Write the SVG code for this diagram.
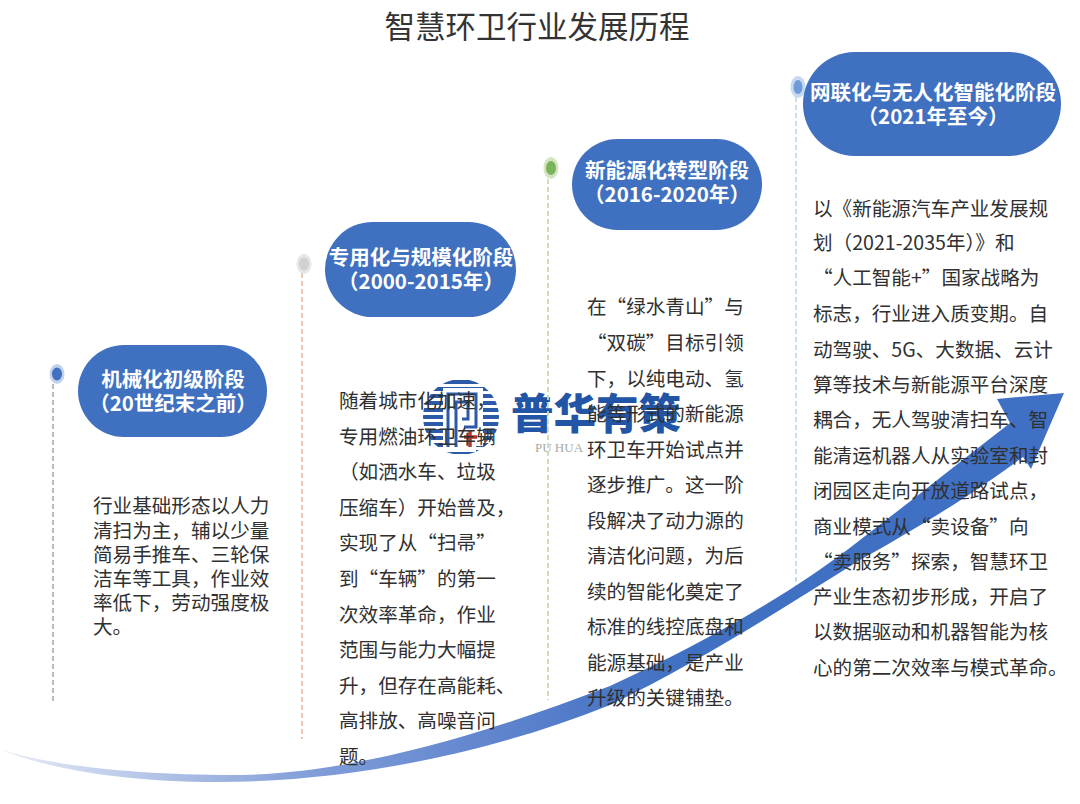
<svg xmlns="http://www.w3.org/2000/svg" width="1080" height="804" viewBox="0 0 1080 804">
<style>
text{font-family:"Noto Sans CJK SC","Noto Sans",sans-serif}
.t{font-size:30.5px;fill:#333;text-anchor:middle}
.b{font-size:19.6px;fill:#303030}
.p{fill:#4070c0}
.h{font-size:20.5px;font-weight:700;fill:#fff;text-anchor:middle}
.d{fill:none;stroke-width:1.8;stroke-dasharray:5 3}
</style>
<defs>
<linearGradient id="ag" gradientUnits="userSpaceOnUse" x1="0" y1="0" x2="1064" y2="0">
<stop offset="0" stop-color="#e9edf6"/><stop offset="0.15" stop-color="#b0c2e6"/><stop offset="0.3" stop-color="#7f9cd8"/><stop offset="0.55" stop-color="#4f79c8"/><stop offset="0.65" stop-color="#4070c2"/><stop offset="1" stop-color="#3f70c4"/>
</linearGradient>
<clipPath id="lc"><circle cx="461" cy="417" r="38"/></clipPath>
</defs>
<rect width="1080" height="804" fill="#fff"/>
<text class="t" x="537" y="38">智慧环卫行业发展历程</text>

<g id="logo">
<g clip-path="url(#lc)" stroke="#2a5aa8" stroke-width="4">
<path d="M420 382H502M420 389H502M420 396H502M420 403H502M420 410H502M420 417H502M420 424H502M420 431H502M420 438H502M420 445H502M420 452H502"/>
</g>
<path d="M443 388H483V446H476V452H443Z" fill="#fff"/>
<path d="M448 447V394H476V427H464" fill="none" stroke="#2a5aa8" stroke-width="3"/>
<path d="M456 447V402H468V419H462" fill="none" stroke="#2a5aa8" stroke-width="3"/>
<path d="M464 437H477M470 431V447" stroke="#b8342e" stroke-width="3.5" fill="none"/>
<text x="511" y="429" font-size="42" font-weight="900" fill="#2355a6" textLength="170" lengthAdjust="spacingAndGlyphs">普华有策</text>
<text x="535" y="452" font-size="13" fill="#a8a8a8" style="font-family:'Liberation Serif',serif">PU HUA</text>
</g>

<g id="connectors">
<path class="d" stroke="#b4b4b4" d="M53 384V704"/>
<path class="d" stroke="#edc3a8" d="M302 273V739"/>
<path class="d" stroke="#cddab0" d="M548 179V700"/>
<path class="d" stroke="#c8d8ec" d="M796 97V590"/>
<path id="trend" fill="url(#ag)" d="M2,750C60,768 150,775 233,775C340,775 470,740 610,686C700,645 790,595 860,540C915,498 960,462 1010,423L997,399L1064,393L1031,469L1023,457C960,503 910,532 860,560C780,610 700,662 610,705C480,757 340,782 217,782C130,782 50,770 2,750Z"/>
</g>

<g id="stage1">
<ellipse cx="57" cy="374" rx="7.5" ry="10" fill="#c3d2ec"/><ellipse cx="57" cy="374" rx="5" ry="6.5" fill="#4070c0"/>
<rect class="p" x="78" y="345" width="189" height="92" rx="46"/>
<text class="h" x="173" y="387">机械化初级阶段</text>
<text class="h" x="173" y="411">（20世纪末之前）</text>
<text class="b" x="93" y="513">行业基础形态以人力</text>
<text class="b" x="93" y="538">清扫为主，辅以少量</text>
<text class="b" x="93" y="562">简易手推车、三轮保</text>
<text class="b" x="93" y="586">洁车等工具，作业效</text>
<text class="b" x="93" y="610">率低下，劳动强度极</text>
<text class="b" x="93" y="634">大。</text>
</g>

<g id="stage2">
<ellipse cx="304" cy="264" rx="7.5" ry="10" fill="#e6e6e6"/><ellipse cx="304" cy="264" rx="5" ry="6.5" fill="#d0d0d0"/>
<rect class="p" x="325" y="222" width="191" height="95" rx="47.5"/>
<text class="h" x="421" y="265">专用化与规模化阶段</text>
<text class="h" x="421" y="289">（2000-2015年）</text>
<text class="b" x="339" y="408">随着城市化加速，</text>
<text class="b" x="339" y="444">专用燃油环卫车辆</text>
<text class="b" x="339" y="479">（如洒水车、垃圾</text>
<text class="b" x="339" y="515">压缩车）开始普及，</text>
<text class="b" x="339" y="550">实现了从“扫帚”</text>
<text class="b" x="339" y="586">到“车辆”的第一</text>
<text class="b" x="339" y="622">次效率革命，作业</text>
<text class="b" x="339" y="657">范围与能力大幅提</text>
<text class="b" x="339" y="693">升，但存在高能耗、</text>
<text class="b" x="339" y="728">高排放、高噪音问</text>
<text class="b" x="339" y="764">题。</text>
</g>

<g id="stage3">
<ellipse cx="551" cy="168" rx="7.5" ry="11" fill="#d5e4c4"/><ellipse cx="551" cy="168" rx="5" ry="7" fill="#79b35a"/>
<rect class="p" x="572" y="139" width="190" height="91" rx="45.5"/>
<text class="h" x="667" y="178">新能源化转型阶段</text>
<text class="h" x="667" y="202">（2016-2020年）</text>
<text class="b" x="587" y="314">在“绿水青山”与</text>
<text class="b" x="587" y="350">“双碳”目标引领</text>
<text class="b" x="587" y="386">下，以纯电动、氢</text>
<text class="b" x="587" y="421">能等形式的新能源</text>
<text class="b" x="587" y="457">环卫车开始试点并</text>
<text class="b" x="587" y="492">逐步推广。这一阶</text>
<text class="b" x="587" y="528">段解决了动力源的</text>
<text class="b" x="587" y="563">清洁化问题，为后</text>
<text class="b" x="587" y="599">续的智能化奠定了</text>
<text class="b" x="587" y="634">标准的线控底盘和</text>
<text class="b" x="587" y="670">能源基础，是产业</text>
<text class="b" x="587" y="705">升级的关键铺垫。</text>
</g>

<g id="stage4">
<ellipse cx="798" cy="87" rx="7.5" ry="11" fill="#c6d9f0"/><ellipse cx="798" cy="87" rx="4.5" ry="7" fill="#6f9bd8"/>
<rect class="p" x="803" y="52" width="258" height="104" rx="52"/>
<text class="h" x="933" y="100">网联化与无人化智能化阶段</text>
<text class="h" x="933" y="124">（2021年至今）</text>
<text class="b" x="813" y="216">以《新能源汽车产业发展规</text>
<text class="b" x="813" y="250">划（2021-2035年）》和</text>
<text class="b" x="813" y="285">“人工智能+”国家战略为</text>
<text class="b" x="813" y="321">标志，行业进入质变期。自</text>
<text class="b" x="813" y="357">动驾驶、5G、大数据、云计</text>
<text class="b" x="813" y="392">算等技术与新能源平台深度</text>
<text class="b" x="813" y="427">耦合，无人驾驶清扫车、智</text>
<text class="b" x="813" y="463">能清运机器人从实验室和封</text>
<text class="b" x="813" y="498">闭园区走向开放道路试点，</text>
<text class="b" x="813" y="534">商业模式从“卖设备”向</text>
<text class="b" x="813" y="569">“卖服务”探索，智慧环卫</text>
<text class="b" x="813" y="604">产业生态初步形成，开启了</text>
<text class="b" x="813" y="639">以数据驱动和机器智能为核</text>
<text class="b" x="813" y="675">心的第二次效率与模式革命。</text>
</g>
</svg>
